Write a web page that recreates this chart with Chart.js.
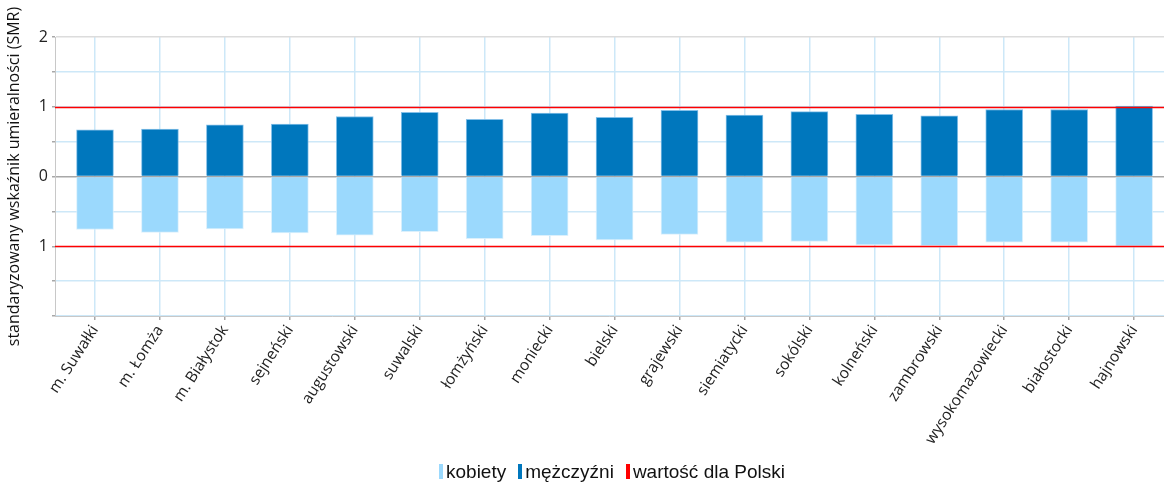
<!DOCTYPE html>
<html lang="pl">
<head>
<meta charset="utf-8">
<script src="https://cdn.jsdelivr.net/npm/chart.js@4/dist/chart.umd.min.js"></script>
<style>
  html, body { margin: 0; padding: 0; background: #fff; overflow: hidden; }
  #wrap { width: 1164px; height: 482px; position: relative; }
  #legenda {
    position: absolute; left: 439px; top: 462px;
    font: 19px/19px 'Liberation Sans', Arial, sans-serif; color: #111;
    white-space: nowrap;
  }
  #legenda .poz { display: inline-block; margin-right: 12px; }
  #legenda .kolor { display: inline-block; width: 4px; height: 15px; margin-right: 3px; vertical-align: -1px; }
</style>
</head>
<body>
<div id="wrap">
  <canvas id="chartSMR"></canvas>
  <div id="legenda"></div>
</div>
<script>
// powiaty województwa podlaskiego
const powiaty = ['m. Suwałki', 'm. Łomża', 'm. Białystok', 'sejneński', 'augustowski', 'suwalski',
  'łomżyński', 'moniecki', 'bielski', 'grajewski', 'siemiatycki', 'sokólski', 'kolneński',
  'zambrowski', 'wysokomazowiecki', 'białostocki', 'hajnowski'];

// SMR - mężczyźni (w górę) i kobiety (w dół)
const smrMezczyzni = [0.67, 0.68, 0.74, 0.75, 0.86, 0.92, 0.82, 0.91, 0.85, 0.95, 0.88, 0.93, 0.89, 0.87, 0.96, 0.96, 1.01];
const smrKobiety = [0.76, 0.80, 0.75, 0.81, 0.84, 0.79, 0.89, 0.85, 0.91, 0.83, 0.94, 0.93, 0.98, 0.99, 0.94, 0.94, 1.00];

// wartość referencyjna dla Polski
const smrPolska = 1;

// podpisy osi Y (tylko pełne wartości, bez dolnej granicy)
const etykietyY = [2, 1, 0, -1];

const jasnyNiebieski = '#cde8f8';

// czerwone linie odniesienia na +1 i -1
const liniaPolski = {
  id: 'liniaPolski',
  afterDatasetsDraw(chart) {
    const { ctx, chartArea, scales: { y } } = chart;
    ctx.save();
    ctx.strokeStyle = '#ff0000';
    ctx.lineWidth = 1.5;
    [smrPolska, -smrPolska].forEach(v => {
      const py = Math.round(y.getPixelForValue(v)) + 0.5;
      ctx.beginPath();
      ctx.moveTo(chartArea.left, py);
      ctx.lineTo(chartArea.right, py);
      ctx.stroke();
    });
    ctx.restore();
  }
};

const wykres = new Chart(document.getElementById('chartSMR'), {
  type: 'bar',
  data: {
    datasets: [
      {
        label: 'kobiety',
        data: smrKobiety.map((v, i) => ({ x: i, y: -v })),
        backgroundColor: '#9bd9fd',
        borderColor: 'rgba(215,238,252,0.9)',
        borderWidth: 1,
        barThickness: 37,
        grouped: false
      },
      {
        label: 'mężczyźni',
        data: smrMezczyzni.map((v, i) => ({ x: i, y: v })),
        backgroundColor: '#0077bd',
        borderColor: 'rgba(120,185,230,0.9)',
        borderWidth: 1,
        barThickness: 37,
        grouped: false
      },
      {
        type: 'line',
        label: 'wartość dla Polski',
        data: [],
        backgroundColor: '#ff0000',
        borderColor: '#ff0000'
      }
    ]
  },
  options: {
    responsive: true,
    maintainAspectRatio: false,
    animation: false,
    layout: { padding: { top: 37, right: 0, bottom: 26, left: 0 } },
    plugins: {
      tooltip: { enabled: false },
      legend: { display: false }
    },
    scales: {
      x: {
        type: 'linear',
        offset: false,
        min: -0.616,
        max: 16.46,
        afterBuildTicks: scale => {
          scale.ticks = powiaty.map((_, i) => ({ value: i }));
        },
        afterFit: scale => { scale.height = 140; },
        ticks: {
          autoSkip: false,
          minRotation: 57,
          maxRotation: 57,
          padding: 2,
          color: '#222',
          font: { family: 'Open Sans', size: 15.5 },
          callback: v => powiaty[v]
        },
        grid: {
          offset: false,
          color: jasnyNiebieski,
          lineWidth: 1.5,
          tickColor: '#a8a8a8',
          tickLength: 4
        },
        border: { color: '#c8c8c8', width: 1 }
      },
      y: {
        min: -2,
        max: 2,
        afterBuildTicks: scale => {
          const t = [];
          for (let v = -2; v <= 2; v += 0.5) t.push({ value: v });
          scale.ticks = t;
        },
        afterFit: scale => { scale.width = 55; },
        ticks: {
          padding: 4,
          color: '#222',
          font: { family: 'Open Sans', size: 16 },
          callback: v => etykietyY.includes(v) ? String(Math.abs(v)) : ''
        },
        grid: {
          color: c => c.tick.value === 0 ? '#a8a8a8' : (c.tick.value === 2 ? '#dcdcdc' : jasnyNiebieski),
          lineWidth: 1.5,
          tickColor: '#a8a8a8',
          tickLength: 3
        },
        border: { color: '#c8c8c8', width: 1 },
        title: {
          display: true,
          text: 'standaryzowany wskaźnik umieralności (SMR)',
          color: '#111',
          font: { family: 'Open Sans', size: 16 },
          padding: { top: 5, bottom: 2 }
        }
      }
    }
  },
  plugins: [liniaPolski]
});

// legenda pod wykresem, budowana z serii
const legenda = document.getElementById('legenda');
wykres.data.datasets.forEach(ds => {
  const poz = document.createElement('span');
  poz.className = 'poz';
  const kolor = document.createElement('span');
  kolor.className = 'kolor';
  kolor.style.background = ds.backgroundColor;
  poz.appendChild(kolor);
  poz.appendChild(document.createTextNode(ds.label));
  legenda.appendChild(poz);
});
</script>
</body>
</html>
